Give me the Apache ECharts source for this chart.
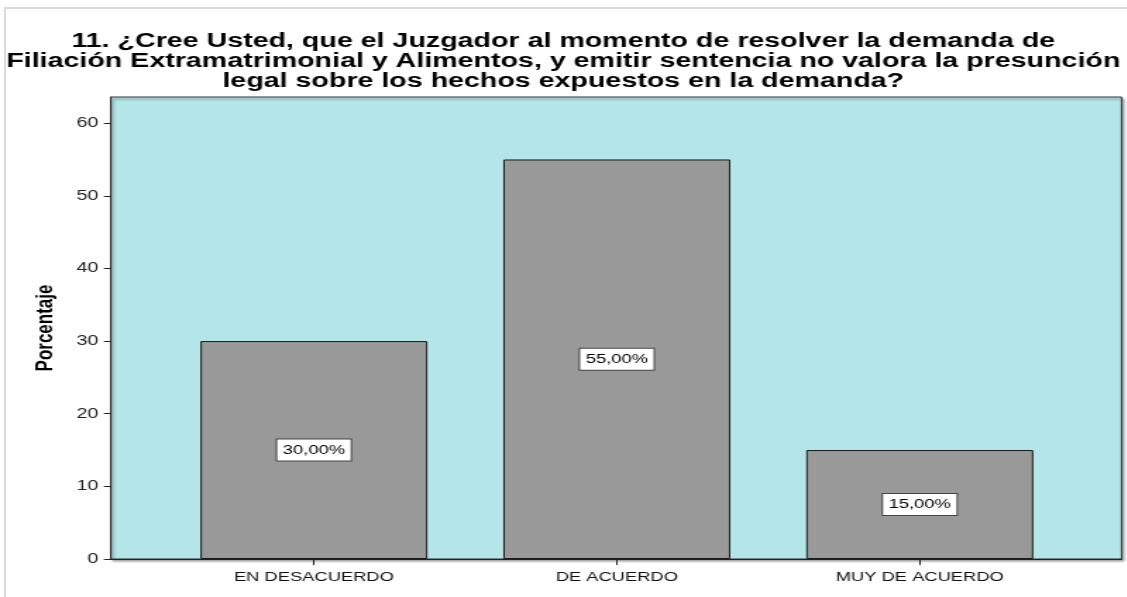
<!DOCTYPE html>
<html>
<head>
<meta charset="utf-8">
<script src="https://cdn.jsdelivr.net/npm/echarts@6/dist/echarts.min.js"></script>
<style>
  html, body { margin: 0; padding: 0; width: 1127px; height: 597px; overflow: hidden; background: #fff; }
  #frame {
    position: absolute; left: 4px; top: 7px; right: 0; bottom: 0;
    border-top: 2px solid #d9d9d9; border-left: 2px solid #d9d9d9;
  }
  /* the source picture is a horizontally stretched SPSS export, so the chart is drawn narrow and scaled */
  #chart {
    position: absolute; left: 0; top: 0; width: 799px; height: 597px;
    transform: scaleX(1.41); transform-origin: 0 0;
  }
</style>
</head>
<body>
<div id="frame"></div>
<div id="chart"></div>
<script>
const categories = ['EN DESACUERDO', 'DE ACUERDO', 'MUY DE ACUERDO'];
const percentages = [30, 55, 15];
const yTicks = [0, 10, 20, 30, 40, 50, 60];
const titleLines = [
  '11. ¿Cree Usted, que el Juzgador al momento de resolver la demanda de',
  'Filiación Extramatrimonial y Alimentos, y emitir sentencia no valora la presunción',
  'legal sobre los hechos expuestos en la demanda?'
];

const FONT = '"Liberation Sans", Arial, sans-serif';
const chart = echarts.init(document.getElementById('chart'));

chart.setOption({
  animation: false,
  backgroundColor: 'transparent',
  title: {
    text: titleLines.join('\n'),
    left: 'center',
    top: 31,
    padding: 0,
    textStyle: {
      color: '#000',
      fontFamily: FONT,
      fontWeight: 'bold',
      fontSize: 20.3,
      lineHeight: 20
    }
  },
  grid: {
    left: 78.7,
    right: 3.6,
    top: 97,
    bottom: 38,
    show: true,
    backgroundColor: '#b4e5e8',
    borderColor: '#333',
    borderWidth: 1,
    shadowColor: 'rgba(0,0,0,0.35)',
    shadowBlur: 2,
    shadowOffsetX: 1.5,
    shadowOffsetY: 2
  },
  xAxis: {
    type: 'value',
    min: -0.67,
    max: 2.666,
    splitLine: { show: false },
    axisLine: { show: true, onZero: false, lineStyle: { color: '#222', width: 1 } },
    axisTick: {
      show: true,
      customValues: [0, 1, 2],
      length: 6,
      lineStyle: { color: '#222' }
    },
    axisLabel: {
      customValues: [0, 1, 2],
      formatter: v => categories[Math.round(v)],
      color: '#111',
      fontFamily: FONT,
      fontSize: 13,
      margin: 12
    }
  },
  yAxis: {
    type: 'value',
    min: 0,
    max: 63.6,
    name: 'Porcentaje',
    nameLocation: 'middle',
    nameGap: 38,
    nameTextStyle: {
      color: '#000',
      fontFamily: FONT,
      fontWeight: 'bold',
      fontSize: 17
    },
    splitLine: { show: false },
    axisLine: { show: true, onZero: false, lineStyle: { color: '#222', width: 1 } },
    axisTick: {
      show: true,
      customValues: yTicks,
      length: 5,
      lineStyle: { color: '#222' }
    },
    axisLabel: {
      customValues: yTicks,
      color: '#222',
      fontFamily: FONT,
      fontSize: 14,
      margin: 9
    }
  },
  series: [{
    type: 'bar',
    data: percentages.map((v, i) => [i, v]),
    barWidth: 161,
    itemStyle: {
      color: '#999999',
      borderColor: '#1a1a1a',
      borderWidth: 1
    },
    label: {
      show: true,
      position: 'inside',
      formatter: p => p.value[1].toFixed(2).replace('.', ',') + '%',
      color: '#000',
      fontFamily: FONT,
      fontSize: 13,
      backgroundColor: '#fff',
      borderColor: '#444',
      borderWidth: 1,
      padding: [4, 4]
    }
  }]
});
</script>
</body>
</html>
